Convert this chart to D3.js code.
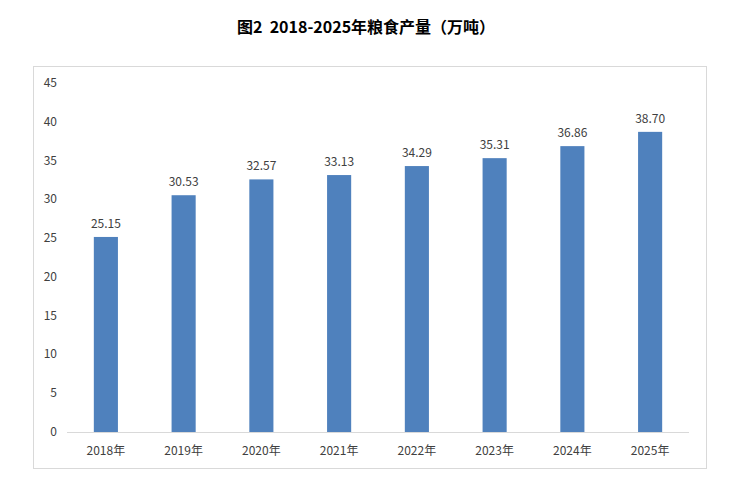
<!DOCTYPE html>
<html>
<head>
<meta charset="utf-8">
<script src="https://cdn.jsdelivr.net/npm/d3@7"></script>
<style>
  body { margin: 0; background: #fff; font-family: "Noto Sans CJK SC", "Noto Sans", sans-serif; }
  svg text { fill: #404040; }
</style>
</head>
<body>
<div id="chart"></div>
<script>
const years  = ['2018年','2019年','2020年','2021年','2022年','2023年','2024年','2025年'];
const values = [25.15, 30.53, 32.57, 33.13, 34.29, 35.31, 36.86, 38.70];
const yTicks = [0, 5, 10, 15, 20, 25, 30, 35, 40, 45];
const title  = '图2  2018-2025年粮食产量（万吨）';

const W = 739, H = 494;
const svg = d3.select('#chart').append('svg')
  .attr('width', W).attr('height', H);

// title
svg.append('text')
  .attr('x', 366).attr('y', 33)
  .attr('text-anchor', 'middle')
  .attr('font-size', 16).attr('font-weight', 'bold')
  .style('fill', '#000')
  .style('white-space', 'pre')
  .text(title);

// chart frame
svg.append('rect')
  .attr('x', 33.5).attr('y', 66.5)
  .attr('width', 673).attr('height', 402)
  .attr('fill', 'none').attr('stroke', '#d9d9d9');

const x = d3.scaleBand().domain(years).range([67, 689]).paddingInner(0.69).paddingOuter(0.345);
const y = d3.scaleLinear().domain([0, 45]).range([432, 83]);

// y labels
svg.append('g').selectAll('text').data(yTicks).join('text')
  .attr('x', 57).attr('y', d => y(d) + 4)
  .attr('text-anchor', 'end')
  .attr('font-size', 12)
  .text(d => d);

// bars
svg.append('g').selectAll('rect').data(values).join('rect')
  .attr('x', (d, i) => x(years[i]))
  .attr('y', d => y(d))
  .attr('width', x.bandwidth())
  .attr('height', d => y(0) - y(d))
  .attr('fill', '#4f81bd');

// value labels
svg.append('g').selectAll('text').data(values).join('text')
  .attr('x', (d, i) => x(years[i]) + x.bandwidth() / 2)
  .attr('y', d => y(d) - 9)
  .attr('text-anchor', 'middle')
  .attr('font-size', 12)
  .text(d => d.toFixed(2));

// x axis line
svg.append('line')
  .attr('x1', 67).attr('x2', 689)
  .attr('y1', y(0) + 0.5).attr('y2', y(0) + 0.5)
  .attr('stroke', '#d9d9d9');

// x labels
svg.append('g').selectAll('text').data(years).join('text')
  .attr('x', d => x(d) + x.bandwidth() / 2)
  .attr('y', 455)
  .attr('text-anchor', 'middle')
  .attr('font-size', 12)
  .text(d => d);
</script>
</body>
</html>
